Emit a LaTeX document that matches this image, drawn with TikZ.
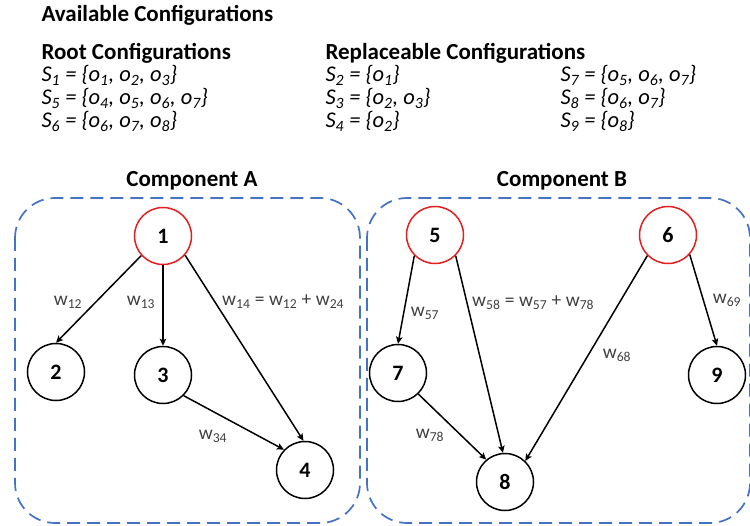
\documentclass[tikz,border=0pt]{standalone}
\usepackage{fontspec}
\setmainfont{Carlito}
\usetikzlibrary{arrows.meta}
\definecolor{boxblue}{RGB}{68,114,196}
\definecolor{rootred}{RGB}{232,30,30}
\definecolor{lblgray}{RGB}{64,64,64}
\begin{document}
\begin{tikzpicture}[x=1pt,y=-1pt,
  head/.style={anchor=base west,font=\fontsize{23}{27}\selectfont\bfseries},
  cfg/.style={anchor=base west,font=\fontsize{22.5}{27}\selectfont\itshape},
  comp/.style={anchor=base,font=\fontsize{23}{27}\selectfont\bfseries},
  vtx/.style={draw,circle,minimum size=57pt,inner sep=0pt,line width=1.5pt,font=\fontsize{22}{26}\selectfont\bfseries},
  rootvtx/.style={vtx,draw=rootred},
  edge/.style={line width=1.5pt,-{Stealth[length=7pt,width=6.5pt,inset=1.5pt]}},
  wl/.style={text=lblgray,font=\fontsize{19.5}{23}\selectfont,inner sep=0pt},
  grp/.style={draw=boxblue,line width=1.7pt,dash pattern=on 13pt off 7pt,rounded corners=40pt}]
\useasboundingbox (0,0) rectangle (750,526);
% headings
\node[head] (avail) at (38,22) {Available Configurations};
\node[head] (root) at (38,60) {Root Configurations};
\node[head] (repl) at (322,60) {Replaceable Configurations};
% root configs
\node[cfg] (s1) at (38,82) {S\textsubscript{1} = \{o\textsubscript{1}, o\textsubscript{2}, o\textsubscript{3}\}};
\node[cfg] (s5) at (38,105) {S\textsubscript{5} = \{o\textsubscript{4}, o\textsubscript{5}, o\textsubscript{6}, o\textsubscript{7}\}};
\node[cfg] (s6) at (38,128) {S\textsubscript{6} = \{o\textsubscript{6}, o\textsubscript{7}, o\textsubscript{8}\}};
% replaceable
\node[cfg] (s2) at (322,82) {S\textsubscript{2} = \{o\textsubscript{1}\}};
\node[cfg] (s3) at (322,105) {S\textsubscript{3} = \{o\textsubscript{2}, o\textsubscript{3}\}};
\node[cfg] (s4) at (322,128) {S\textsubscript{4} = \{o\textsubscript{2}\}};
\node[cfg] (s7) at (557,82) {S\textsubscript{7} = \{o\textsubscript{5}, o\textsubscript{6}, o\textsubscript{7}\}};
\node[cfg] (s8) at (557,105) {S\textsubscript{8} = \{o\textsubscript{6}, o\textsubscript{7}\}};
\node[cfg] (s9) at (557,128) {S\textsubscript{9} = \{o\textsubscript{8}\}};
% components
\node[comp] (compA) at (192,187) {Component A};
\node[comp] (compB) at (562,187) {Component B};
\draw[grp] (15,198) rectangle (360,523);
\draw[grp] (367,198) rectangle (750,523);
% vertices
\node[rootvtx] (n1) at (163,236) {1};
\node[vtx] (n2) at (56,372) {2};
\node[vtx] (n3) at (163,375) {3};
\node[vtx] (n4) at (305,470) {4};
\node[rootvtx] (n5) at (435,235) {5};
\node[rootvtx] (n6) at (668,235) {6};
\node[vtx] (n7) at (398,373) {7};
\node[vtx] (n8) at (505,482) {8};
\node[vtx] (n9) at (717,375) {9};
% edges
\draw[edge] (n1.222) -- (n2.north);
\draw[edge] (n1.south) -- (n3.north);
\draw[edge] (n1.-41) -- (n4.93);
\draw[edge] (n3.-45) -- (n4.136);
\draw[edge] (n5.225) -- (n7.north);
\draw[edge] (n5.-45) -- (n8.94);
\draw[edge] (n7.-46) -- (n8.130);
\draw[edge] (n6.225) -- (n8.46);
\draw[edge] (n6.-42) -- (n9.north);
% edge labels
\node[wl] (w12) at (68,302) {w\textsubscript{12}};
\node[wl] (w13) at (141,302) {w\textsubscript{13}};
\node[wl,anchor=west] (w14) at (222,302) {w\textsubscript{14} = w\textsubscript{12} + w\textsubscript{24}};
\node[wl] (w34) at (213,436) {w\textsubscript{34}};
\node[wl] (w57) at (425,313) {w\textsubscript{57}};
\node[wl,anchor=west] (w58) at (472,303) {w\textsubscript{58} = w\textsubscript{57} + w\textsubscript{78}};
\node[wl] (w68) at (617,355) {w\textsubscript{68}};
\node[wl] (w69) at (727,300) {w\textsubscript{69}};
\node[wl] (w78) at (430,435) {w\textsubscript{78}};
\end{tikzpicture}
\end{document}
